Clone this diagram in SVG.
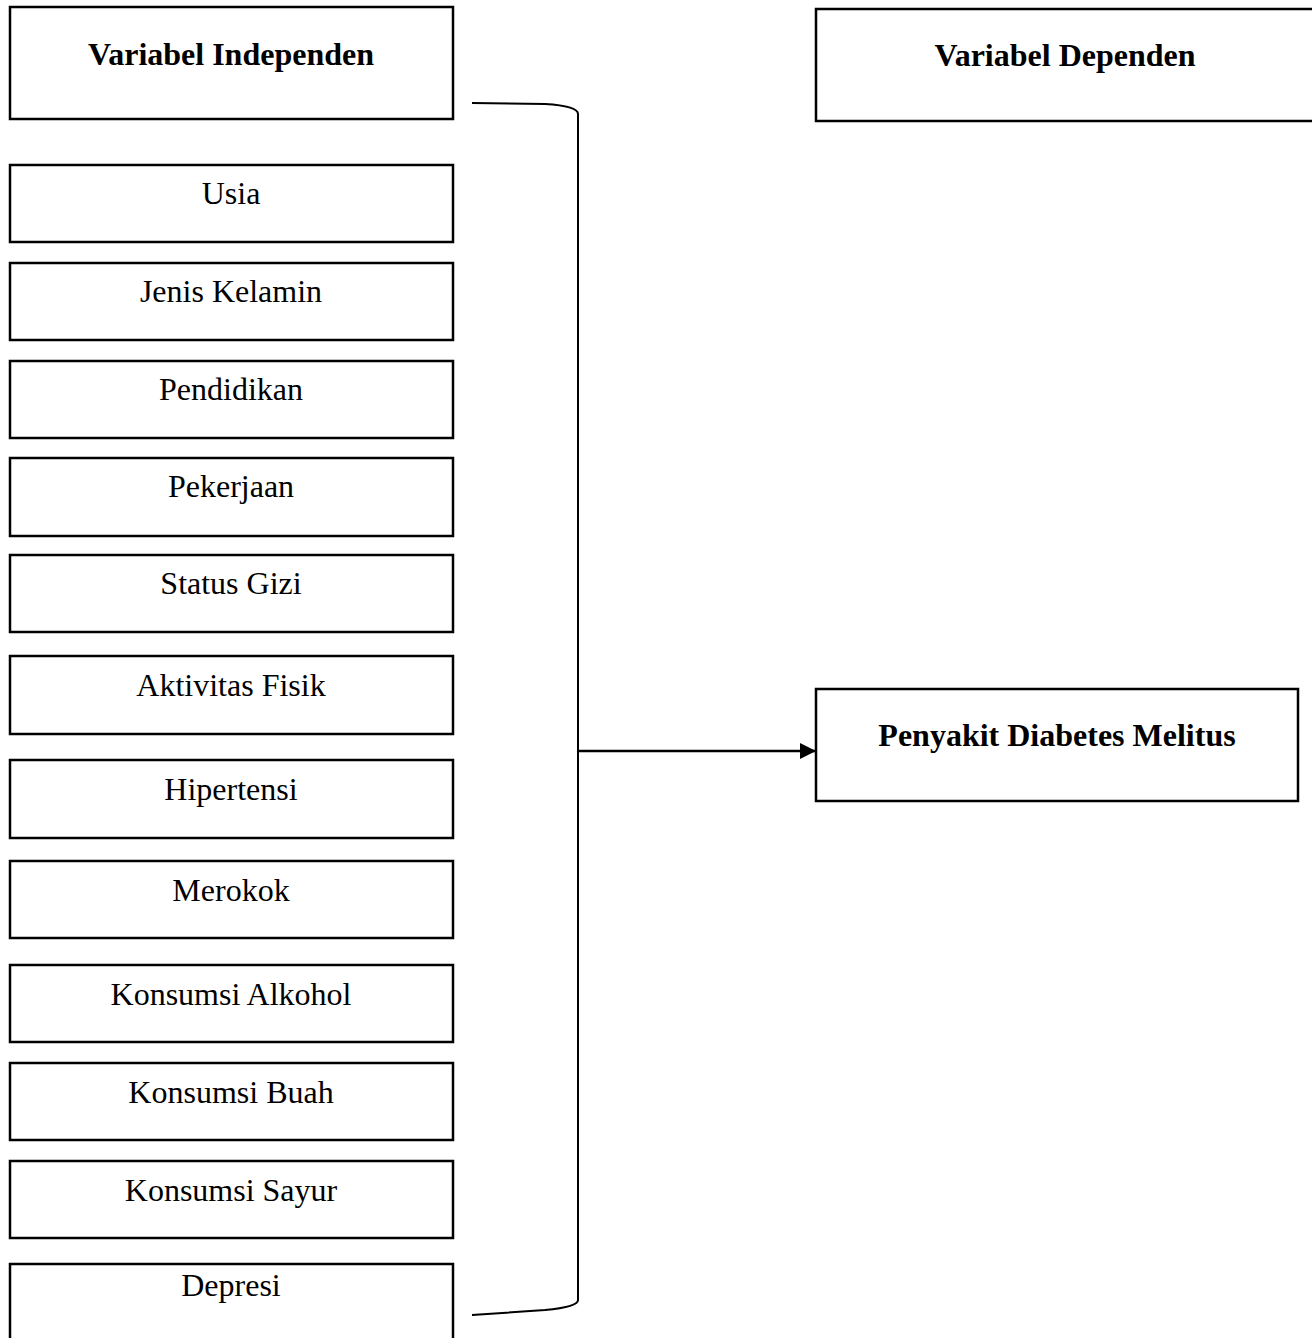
<svg xmlns="http://www.w3.org/2000/svg" width="1312" height="1338" viewBox="0 0 1312 1338">
<style>
.box{fill:#fff;stroke:#000;stroke-width:2.5}
.t{font-family:"Liberation Serif","Times New Roman",serif;font-size:32px;text-anchor:middle;fill:#000}
.b{font-weight:bold}
.c{fill:none;stroke:#000;stroke-width:2}
</style>
<defs>
<marker id="arr" markerWidth="16" markerHeight="16" refX="15" refY="8" orient="auto" markerUnits="userSpaceOnUse" viewBox="0 0 16 16">
<path d="M0,0 L16,8 L0,16 z" fill="#000"/>
</marker>
</defs>
<rect width="1312" height="1338" fill="#fff"/>
<g id="connectors">
<path class="c" d="M472,103 L545,104 Q578,106 578,114 L578,1300 Q578,1307 545,1310 L472,1315"/>
<line class="c" x1="578" y1="751" x2="815" y2="751" marker-end="url(#arr)" style="stroke-width:2.5"/>
</g>
<g id="n-indep"><rect class="box" x="10" y="7" width="443" height="112"/><text class="t b" x="231" y="65">Variabel Independen</text></g>
<g id="n-dep"><rect class="box" x="816" y="9" width="500" height="112"/><text class="t b" x="1065" y="66">Variabel Dependen</text></g>
<g id="n-dm"><rect class="box" x="816" y="689" width="482" height="112"/><text class="t b" x="1057" y="746">Penyakit Diabetes Melitus</text></g>
<g id="n-usia"><rect class="box" x="10" y="165" width="443" height="77"/><text class="t" x="231" y="204">Usia</text></g>
<g id="n-jk"><rect class="box" x="10" y="263" width="443" height="77"/><text class="t" x="231" y="302">Jenis Kelamin</text></g>
<g id="n-pend"><rect class="box" x="10" y="361" width="443" height="77"/><text class="t" x="231" y="400">Pendidikan</text></g>
<g id="n-pek"><rect class="box" x="10" y="458" width="443" height="78"/><text class="t" x="231" y="497">Pekerjaan</text></g>
<g id="n-gizi"><rect class="box" x="10" y="555" width="443" height="77"/><text class="t" x="231" y="594">Status Gizi</text></g>
<g id="n-akt"><rect class="box" x="10" y="656" width="443" height="78"/><text class="t" x="231" y="696">Aktivitas Fisik</text></g>
<g id="n-hip"><rect class="box" x="10" y="760" width="443" height="78"/><text class="t" x="231" y="800">Hipertensi</text></g>
<g id="n-mer"><rect class="box" x="10" y="861" width="443" height="77"/><text class="t" x="231" y="901">Merokok</text></g>
<g id="n-alk"><rect class="box" x="10" y="965" width="443" height="77"/><text class="t" x="231" y="1005">Konsumsi Alkohol</text></g>
<g id="n-buah"><rect class="box" x="10" y="1063" width="443" height="77"/><text class="t" x="231" y="1103">Konsumsi Buah</text></g>
<g id="n-sayur"><rect class="box" x="10" y="1161" width="443" height="77"/><text class="t" x="231" y="1201">Konsumsi Sayur</text></g>
<g id="n-dep2"><rect class="box" x="10" y="1264" width="443" height="80"/><text class="t" x="231" y="1296">Depresi</text></g>
</svg>
